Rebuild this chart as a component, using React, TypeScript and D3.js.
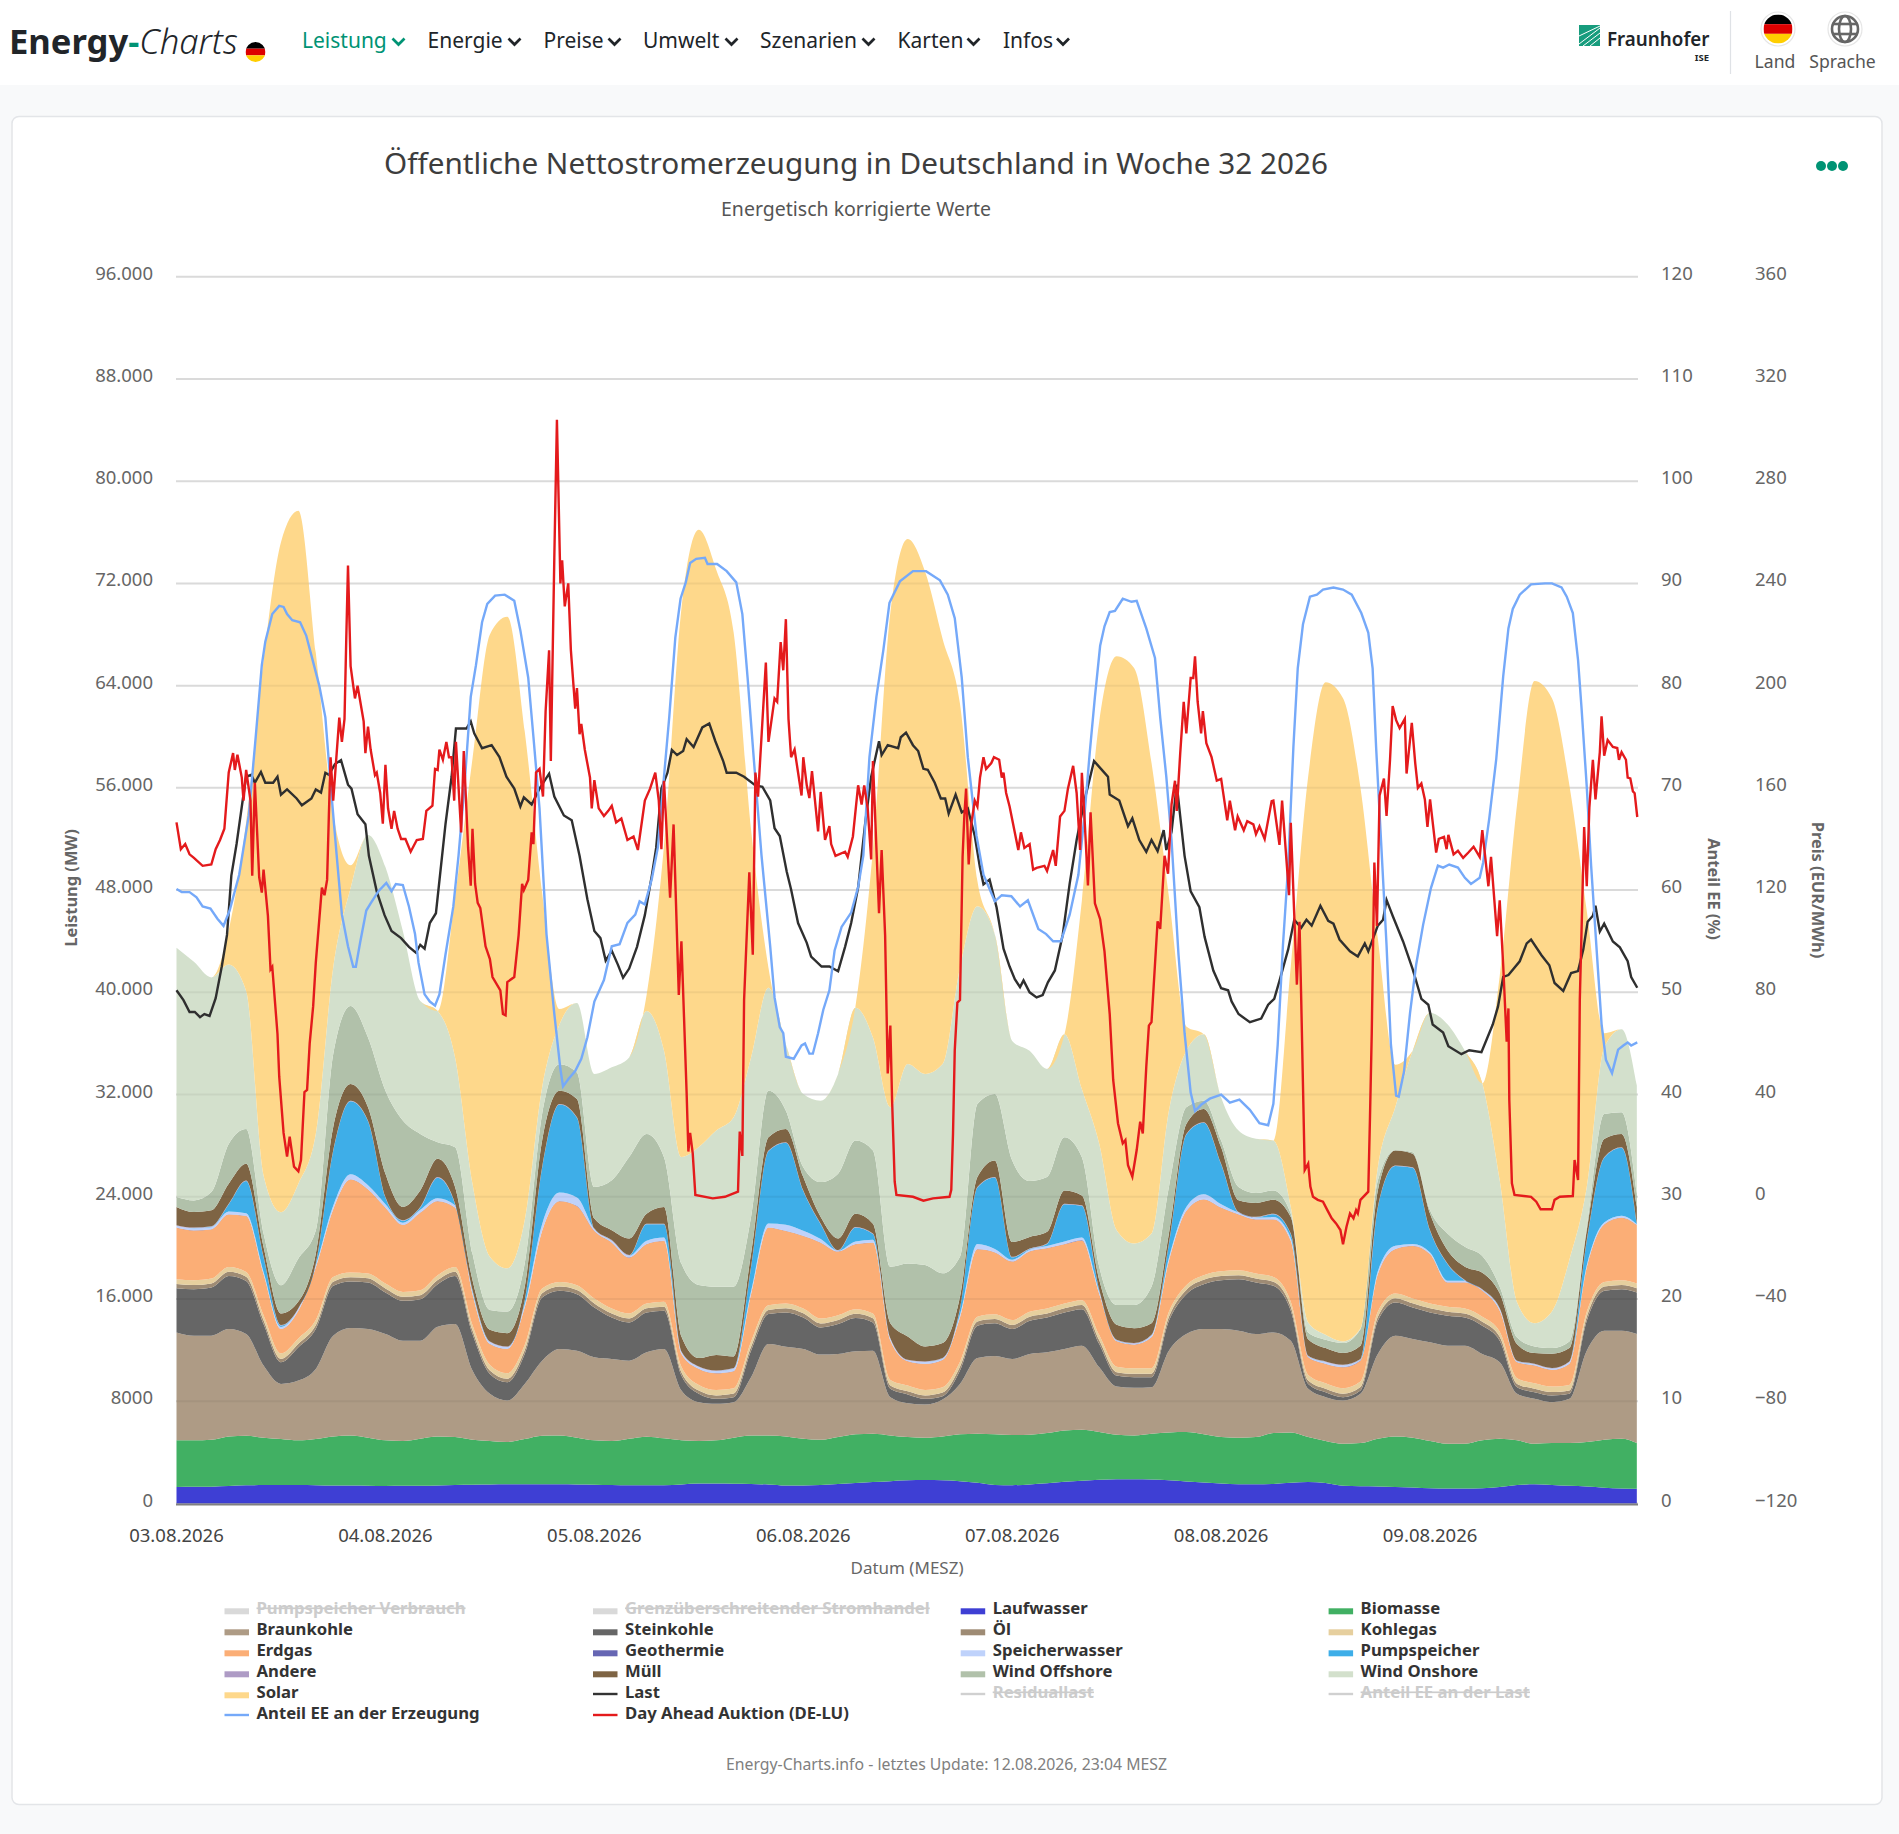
import React from 'react';
import * as d3 from 'd3';

const FONT = '"Noto Sans", "Open Sans", sans-serif';

const stackHours = d3.range(0, 169, 2);

const laufwasser = [
  1300,1310,1320,1370,1420,1440,1450,1440,1420,1400,1400,1390,
  1370,1380,1380,1410,1450,1470,1490,1500,1500,1510,1500,1490,
  1470,1450,1430,1420,1430,1490,1560,1560,1540,1520,1480,1400,
  1410,1450,1530,1610,1680,1750,1820,1830,1810,1740,1620,1450,
  1430,1490,1580,1700,1780,1860,1900,1900,1880,1820,1730,1640,
  1560,1500,1500,1530,1620,1690,1600,1380,1350,1330,1290,1260,
  1200,1180,1170,1190,1290,1440,1500,1440,1380,1340,1240,1180,
  1150];
const biomasse = [
  3640,3630,3670,3880,3880,3710,3590,3500,3620,3850,3930,3760,
  3570,3510,3690,3840,3750,3520,3400,3310,3540,3790,3830,3660,
  3470,3440,3640,3810,3670,3450,3330,3380,3610,3810,3850,3850,
  3660,3540,3670,3800,3780,3580,3380,3320,3440,3670,3840,3960,
  3930,3890,3930,4020,3990,3730,3480,3430,3580,3740,3860,3770,
  3640,3650,3700,3980,3940,3510,3290,3300,3380,3740,3960,3890,
  3690,3500,3510,3750,3780,3500,3180,3290,3350,3470,3750,3890,
  3580];
const braunkohle = [
  8450,8190,8140,8400,7960,5640,4320,4680,5490,7880,8400,8500,
  8320,7850,7670,8580,8840,5410,3690,3250,4320,5880,6760,6810,
  6500,6420,6110,6600,6990,3900,3040,2860,2780,4550,7150,7020,
  7020,6660,6500,6500,6500,2990,2650,2600,2890,3950,5930,6140,
  5950,6320,6320,6370,6580,5070,3770,3720,3640,6400,7670,8240,
  8450,8370,8060,7880,7180,3770,3430,3380,3850,6630,7880,7720,
  7720,7670,7670,6760,5980,3640,3510,3200,3460,7150,8530,8450,
  8530];
const steinkohle = [
  3460,3640,3770,4160,4160,3250,1690,2600,3120,3900,3640,3640,
  3250,3120,3250,3330,3770,2860,1560,1430,2340,4940,4550,4420,
  3900,3250,2990,3120,2990,1170,650,390,390,2080,2340,2680,
  2470,2130,2340,2600,2210,650,680,440,260,1040,2520,2550,
  2340,2600,2730,2860,2860,1820,860,830,780,2340,3120,3510,
  3820,4030,4030,3640,2340,390,390,260,260,2600,2600,2470,
  2340,2340,2210,2210,1690,520,520,520,390,2340,3120,3250,
  3250];
const oel = [
  320,320,310,320,330,300,270,280,300,330,340,330,
  320,320,310,320,330,300,260,270,290,330,340,330,
  320,310,310,320,320,270,260,270,280,300,330,330,
  320,310,320,330,320,270,260,270,280,300,330,330,
  320,320,310,320,320,290,270,270,280,310,330,340,
  330,320,320,320,310,260,260,270,270,320,340,330,
  320,320,310,310,300,260,270,270,270,320,340,330,
  330];
const kohlegas = [
  380,380,390,380,370,400,430,420,400,370,360,370,
  380,380,390,380,370,400,440,430,410,370,360,370,
  380,390,390,380,380,430,440,430,420,400,370,370,
  380,390,380,370,380,430,440,430,420,400,370,370,
  380,380,390,380,380,410,430,430,420,390,370,360,
  370,380,380,380,390,440,440,430,430,380,360,370,
  380,380,390,390,400,440,430,430,430,380,360,370,
  370];
const erdgas = [
  4030,3900,3850,4110,4370,3200,1900,2160,4110,5280,7280,6580,
  5930,5230,6060,5800,4630,2420,1640,1900,2940,4500,6320,6190,
  5280,5150,4370,4630,4760,990,1250,1300,1330,3720,6060,5670,
  5670,5930,4970,5070,5540,3070,1900,2030,2130,3460,5280,4840,
  4580,4710,4710,4630,4680,3200,1980,1850,2420,3980,5800,5930,
  4970,4370,4240,4500,4760,1380,1510,1640,1640,2940,3460,4110,
  3850,1900,2030,2030,1640,1250,1380,1300,1640,3460,4500,4890,
  4580];
const geothermie = [
  20,20,20,20,20,20,20,20,20,20,20,20,
  20,20,20,20,20,20,20,20,20,20,20,20,
  20,20,20,20,20,20,20,20,20,20,20,20,
  20,20,20,20,20,20,20,20,20,20,20,20,
  20,20,20,20,20,20,20,20,20,20,20,20,
  20,20,20,20,20,20,20,20,20,20,20,20,
  20,20,20,20,20,20,20,20,20,20,20,20,
  20];
const speicherwasser = [
  130,150,150,210,210,160,150,130,150,260,390,310,
  260,160,210,210,180,160,130,130,210,520,650,650,
  130,130,130,260,260,130,130,150,180,210,310,470,
  390,260,50,210,210,130,50,130,80,210,390,260,
  130,130,160,210,210,160,50,50,130,210,310,390,
  260,130,130,160,210,50,130,130,50,210,260,130,
  130,130,130,50,130,50,80,80,130,160,130,130,
  50];
const pumpspeicher = [
  10,10,30,570,2520,1140,100,10,100,4290,5720,5020,
  520,160,180,1610,80,100,10,10,310,4420,6890,6240,
  10,10,10,1300,1040,10,10,10,10,1870,5670,6420,
  3120,1170,10,1090,440,10,10,10,10,440,4420,5590,
  180,50,160,2910,2470,100,10,10,10,1090,5670,5590,
  3120,10,10,230,310,10,10,10,10,4990,6240,5980,
  1690,1300,10,10,10,10,10,10,10,1920,5070,5330,
  10];
const andere = [
  40,40,40,40,40,40,40,40,40,40,40,40,
  40,40,40,40,40,40,40,40,40,40,40,40,
  40,40,40,40,40,40,40,40,40,40,40,40,
  40,40,40,40,40,40,40,40,40,40,40,40,
  40,40,40,40,40,40,40,40,40,40,40,40,
  40,40,40,40,40,40,40,40,40,40,40,40,
  40,40,40,40,40,40,40,40,40,40,40,40,
  40];
const muell = [
  1430,1220,1250,1560,1300,780,910,520,780,1820,1300,1040,
  1820,1040,1300,1430,1300,780,910,1040,1040,2080,1040,1430,
  780,780,1300,780,1300,1170,650,1220,910,1040,1040,1040,
  1040,520,910,1040,780,1170,1820,1170,1170,910,780,1300,
  1170,910,910,1040,780,780,1170,1170,910,780,780,1040,
  1300,910,1090,1090,1300,1300,1040,910,1040,1300,1170,1040,
  1300,1040,1040,1300,1170,1300,830,1120,1040,780,1430,1040,
  1300];
const windOffshore = [
  780,910,1430,3120,2730,1040,2210,3380,1820,5720,6110,5460,
  6500,6760,4420,1300,3120,2080,1560,1690,1820,2080,2080,2080,
  2470,3900,6370,6240,3900,5720,5720,5330,5460,2860,3640,1430,
  780,2730,5070,5720,5720,4420,5720,6370,5460,3120,5720,5200,
  6370,4370,4290,4160,2990,1040,1560,1820,2860,3640,1300,650,
  520,1040,780,730,260,520,650,780,1300,780,50,130,
  260,1300,1560,1300,520,520,520,440,520,260,1950,1690,
  1040];
const windOnshore = [
  19500,18670,16800,14040,10790,4550,5720,5850,7540,6760,9230,15860,
  17500,14820,10400,10270,7020,5460,4160,3380,3380,2080,3120,5430,
  8840,8840,7800,9620,8320,8320,10790,12220,13260,12480,8060,5200,
  5720,6370,7800,10400,8840,12480,15600,14950,16380,22620,15470,12480,
  9360,10190,8450,8060,5330,9620,5850,4810,4160,5980,4420,5200,
  3380,4420,4240,3900,520,780,390,130,50,1040,3330,7930,
  15470,16380,15340,13520,8320,2730,1820,2860,6370,3120,5200,6500,
  8450];
const solar = [
  0,0,0,2680,13230,40330,52420,52650,37670,12040,1790,0,
  0,0,0,0,12580,33250,48700,50990,38270,15240,1200,0,
  0,0,0,1250,16070,42900,48300,43890,37930,17840,1560,0,
  0,0,0,130,14720,38690,41090,39310,33280,20670,1980,0,
  0,0,0,0,14740,33070,44900,45030,36840,16740,1900,0,
  0,0,0,0,18850,42740,51060,50340,42330,17890,3330,0,
  0,0,0,0,15990,39030,50260,48000,37180,21610,1120,0,
  0];

const layers = [
  { name: 'Laufwasser', values: laufwasser, color: '#3e3fd4' },
  { name: 'Biomasse', values: biomasse, color: '#41b063' },
  { name: 'Braunkohle', values: braunkohle, color: '#ae9b85' },
  { name: 'Steinkohle', values: steinkohle, color: '#666666' },
  { name: 'Öl', values: oel, color: '#9e8b74' },
  { name: 'Kohlegas', values: kohlegas, color: '#e6cf9e' },
  { name: 'Erdgas', values: erdgas, color: '#fbae76' },
  { name: 'Geothermie', values: geothermie, color: '#6666b3' },
  { name: 'Speicherwasser', values: speicherwasser, color: '#bfd2fb' },
  { name: 'Pumpspeicher', values: pumpspeicher, color: '#3eaee8' },
  { name: 'Andere', values: andere, color: '#ae9bc5' },
  { name: 'Müll', values: muell, color: '#7e6444' },
  { name: 'Wind Offshore', values: windOffshore, color: '#b1c1aa' },
  { name: 'Wind Onshore', values: windOnshore, color: '#d3e0cc' },
  { name: 'Solar', values: solar, color: '#fed88b' },
];

const loadHours = [0,.8,1.5,2.1,2.7,3.2,3.8,4.5,5.2,5.8,6.3,6.9,7.6,8,8.6,9,9.7,10.2,11.1,11.6,12,12.7,13.8,14.4,15.5,16,16.6,17.1,17.5,18.2,18.9,19.7,20.1,20.8,21.7,22.1,23,23.9,24.7,25.8,26.7,27.5,28,28.5,29.1,29.8,30.9,31.6,32.1,33.3,33.8,34.2,35.1,36.2,37.1,37.9,38.8,39.5,39.9,40.8,41.7,42.8,43.4,44.5,45.4,46.3,47.2,48,48.7,49.3,50,50.7,51.3,52,52.9,53.8,54.6,55.1,55.7,56.4,56.9,57.5,58.2,58.6,59.4,60.4,61.2,61.9,62.8,63.2,64.3,65.2,66.5,67.3,68.2,68.7,69.3,70.1,70.6,71.4,72.4,72.9,74.1,75,76,76.8,77.5,78.3,79.1,79.8,80.7,81,81.7,82.9,83.2,83.8,84.6,85.2,85.8,86.3,87.1,87.8,88.3,88.7,89.5,90.2,90.9,91.7,92.3,92.7,93.4,94.2,95,95.7,96.3,96.9,97.3,98,98.8,99.5,100.1,100.9,101.8,102.6,103.4,104.3,105.4,106.4,107,107.2,108.3,109.3,109.8,110.6,111.4,112,112.7,113.4,113.7,114.3,114.9,115.8,116.5,117.5,118.1,119.1,120,120.8,121.2,122,123.3,124.6,125.4,126.1,126.7,127.7,128.4,129.2,129.8,130.4,131.4,132.3,132.9,133.6,134.8,135.7,136.5,136.9,138,138.6,139,139.7,140.9,142,143,143.8,144.3,145.5,146.1,147.6,148.5,149.9,151.2,151.8,152.4,153,154.3,155.1,155.6,156.8,157.7,158.3,159.3,160.2,161,161.6,162.1,162.7,163,163.5,164,165,165.8,166.7,167.1,167.8];
const loadValues = [40160,39390,38460,38460,38060,38300,38150,39540,42020,44490,49130,51610,55010,56870,57020,56400,57240,56400,56400,56870,55470,55880,55170,54640,55170,55880,55630,57180,57020,57860,58170,56250,55940,53930,53160,50680,47900,46040,44800,44240,43560,43100,43720,43410,45420,46190,53160,56870,60640,60640,61200,60270,59100,59340,58410,56870,55940,54550,55260,54700,55940,57110,55320,53840,53460,50680,47280,44800,44240,42480,43250,42170,41150,41860,43560,46040,49130,51300,55940,57180,58970,58570,58880,59810,59190,60730,61040,59650,58100,57180,57180,56870,56190,56090,55010,52840,52230,49440,48050,45420,43870,42790,42020,42020,41650,43560,45420,48200,53160,56870,59650,58570,59340,59100,59960,60330,59340,58880,57490,57420,56400,55170,55170,53990,55470,54080,54390,52230,49750,48450,48820,46660,43410,42020,41030,40410,40930,40000,39600,39790,40780,41710,44490,48510,51920,55010,58100,57330,56870,55470,55010,53000,53620,51920,50990,51920,51050,52690,51140,52540,56250,50680,47900,46660,44340,41710,40320,40160,39290,38300,37660,37950,39030,39490,40890,43360,45680,45060,45680,45220,46770,45590,45370,44130,43210,42810,43830,43210,45220,45680,47230,45990,43980,41810,39490,39030,37480,36860,35780,35160,35470,35320,37480,38880,41200,41350,42430,43830,44130,42900,42120,40730,40110,41510,41660,43360,45530,45990,46770,44760,45370,43980,43520,42430,41200,40360];

const shareHours = [0,.6,1.5,2.3,3,3.9,4.7,5.4,6.1,7.2,8.3,9.1,9.8,10.2,11,11.8,12.3,12.7,13.3,14.2,14.9,15.7,16.4,17.1,17.7,18.4,19,19.7,20.3,20.6,21.1,21.8,22.3,23.2,24.1,24.7,25.2,26,26.7,27.4,27.8,28.5,29.1,29.7,30.2,30.9,31.8,32.4,33.1,33.8,34.4,35.1,35.7,36.6,37.7,38.8,39.5,40.4,41,41.7,42.5,43.4,44.1,44.4,45,45.8,46.5,47.2,48,49.1,50,50.9,51.8,52.7,53.2,53.8,54.6,55.3,56,56.6,57.3,57.9,58.5,59,59.7,60.7,61,62.1,63.2,64.3,65,65.6,66.3,67.2,68.2,68.7,69.3,69.7,70,70.9,71.8,72.2,72.7,73.1,73.7,74.3,75,75.6,76.4,77.5,78.3,78.9,79.6,80.4,81.2,81.9,83.1,84.6,86.1,87.7,88.6,89.4,90.2,90.9,91.9,92.7,93.4,94,94.8,95.9,96.9,97.8,99,99.9,100.7,101.6,102.6,103.6,104.3,104.9,105.5,106.1,106.6,107.2,107.8,108.7,109.7,110.3,111.4,112.4,113,113.7,114.3,115.1,115.8,116.5,117,117.7,118.7,120,121,122.1,123.3,124.4,125.4,126,126.5,127.1,127.7,128.3,128.8,129.4,130.2,131,131.7,132.9,134,135,136.1,136.9,137.4,137.8,138.4,139,139.5,140.1,140.4,141,141.7,142.4,143.2,144.1,144.9,145.5,146.2,147.2,148,148.7,149.7,150.1,150.8,151.6,152.4,153,153.5,154.3,155.6,157.2,158,159.1,159.7,160.4,161,161.4,162,162.5,163.1,163.7,164.2,164.9,165.6,166.2,166.7,167.1,167.8];
const shareValues = [60.1,59.8,59.8,59.3,58.4,58.2,57.2,56.5,58,61.5,67.3,75,82,84.3,87,87.8,87.7,87,86.4,86.2,84.9,82.3,80,76.9,70.4,63.4,57.6,54.5,52.5,52.5,54.9,58,58.7,59.9,60.7,59.9,60.6,60.5,58.4,55.7,52.9,49.8,49.1,48.7,49.8,53.7,58.4,63.4,70.4,78.9,82,86.2,88,88.8,88.9,88.3,85.4,80.8,75,68,55.7,47.9,42.5,40.8,41.5,42.3,43.5,45.6,49.1,51.2,54.5,54.7,56.8,57.6,58.9,58.6,61.1,64.2,71.1,76.9,84.7,88.5,90.1,92,92.4,92.5,91.9,91.9,91.2,90.1,87,80.8,73,63.4,54.5,49.5,46.6,46,43.7,43.5,44.8,45,44,44,46,48.3,50.2,54.1,56.4,57.8,60.3,63.4,73,78.9,83.5,88.1,90.2,91.2,91.2,90.3,88.9,86.6,80.8,73,65.3,61.5,60.1,58.9,59.5,59.4,58.4,59,56.2,55.7,55,55,57.6,61.5,67.3,73.4,78.9,83.9,85.8,87.2,87.3,88.5,88.2,88.3,85.6,82.7,76.9,71.1,64.9,53.7,46,40.2,38.4,39,39.6,40,39.2,39.5,38.5,37.2,37,39.1,44.9,54.6,62.4,74,81.7,86,88.7,88.9,89.4,89.6,89.4,88.9,87.1,85.2,81.7,74,64.3,54.6,44.9,39.9,39.8,42.2,48,52.7,56.6,60.2,62.4,62.2,62.5,62.2,61.2,60.6,61.2,62.7,67,72.8,80.9,85.6,87.5,88.9,89.9,90,90,89.6,88.7,87.1,82.5,77.8,70.1,62.4,54.6,46.9,43.4,42.1,44.4,44.8,45.1,44.8,45.1];

const priceHours = [0,.5,1,1.5,2,3,4,4.5,5,5.5,6,6.5,6.7,7,7.5,7.7,8,8.5,8.7,9,9.5,9.8,10,10.5,10.8,11,11.6,11.8,12.3,12.7,13,13.5,14,14.3,14.7,15,15.3,15.7,16,16.7,17,17.3,17.5,17.7,18,18.7,19,19.3,19.5,19.7,20,20.5,20.8,21.1,21.5,21.7,22,22.3,22.8,23,23.4,23.7,24,24.3,24.7,25,25.4,25.8,26.3,26.9,27.6,28.3,28.7,29.4,29.7,30,30.2,30.6,31,31.3,31.6,31.9,32.1,32.7,33,33.5,33.8,34,34.3,34.6,34.9,35.5,36,36.3,37.2,37.5,37.8,38,38.8,39.3,39.7,39.9,40.4,40.8,41,41.3,41.7,42.1,42.4,42.8,43,43.4,43.7,44.1,44.3,44.6,45,45.3,45.8,46,46.3,46.5,46.9,47.5,47.7,48,48.5,49.1,49.6,50,50.5,51.1,51.8,52.5,53,53.8,54.4,55,55.4,55.7,56,56.7,57.1,57.7,58,58.6,58.8,59,59.3,59.6,61.6,63,64.5,64.7,65,65.2,65.8,66.2,66.5,66.8,67.7,68,68.7,69,69.4,69.7,70,70.3,70.6,71,71.4,71.8,72,72.4,72.7,73,73.7,74,74.5,75,75.2,75.7,76.8,77.1,77.7,78.3,78.7,79,79.4,79.8,80,80.4,80.7,81,81.4,81.7,82,82.2,82.5,82.7,84.6,85.8,86.9,88.8,89,89.2,89.4,89.7,90,90.3,90.5,90.7,91,91.3,91.7,92,92.3,92.7,93,93.6,93.9,94.5,94.8,95,95.3,95.7,96.7,97,97.4,98,98.4,98.8,99.7,100,100.7,101,101.5,102,102.4,103,103.4,103.8,104,104.3,104.7,105,105.5,106.1,106.6,107.2,107.6,108.15,108.7,109,109.3,109.8,110.3,110.7,111,111.4,111.7,112,112.7,113,113.5,113.9,114.3,114.7,114.9,115.3,115.7,116,116.5,116.8,117,117.3,117.7,117.9,118.3,118.9,119.5,120,120.7,121,121.6,121.9,122.6,123,123.7,124,124.4,125,125.8,126,126.7,127,127.8,128,128.7,129,129.2,129.6,130,130.25,130.55,131.1,131.7,132.2,132.7,133.2,133.7,134,134.4,134.8,135.2,135.5,135.7,136,136.9,137.1,137.3,137.6,137.9,138.2,138.7,139,139.4,139.7,140.1,140.5,141.1,141.3,141.9,142.3,142.6,143,143.4,143.7,144,144.7,145,145.6,145.9,146.1,146.7,147.2,147.8,148.4,149,149.7,150,150.7,151,151.7,152,152.4,152.8,153,153.1,153.4,153.7,155.6,156.2,156.7,158,158.3,158.9,160.4,160.6,161,161.2,161.7,162,162.3,162.7,163,163.5,163.7,164,164.4,165,165.5,165.7,166,166.5,166.7,167,167.3,167.5,167.8];
const priceValues = [146.5,136,138,134,132.6,129.5,130,136,139.6,144,166,173.6,167,173,164,155,167,155,125.6,162,125,119,128,110,89,90,63.7,47,25,15.7,23.5,11.8,10,14.4,41,41.8,60,74.6,91.6,121,118,124,149,172,155,187.5,178,187,218,247,207.6,195,200,194,186,173.6,184,175,165,166,158,146,169,152,144,151,144,140,140,135,139.6,140,151,153,167.4,167,175,171,178,172,172,155,178,142.6,174.4,136.5,121.7,144,122.5,115,113,98,93,86,80.8,71.5,71,84,86,102.4,122.5,120,124,142.6,138,166,167.4,156.6,190,213.8,170.5,250,304,240,249,231,240,214,191,199,181,185,175,164,152,163,152,149,151,153,146.5,148,139.6,141,135.7,155,159.7,166,155,136,162.8,117,145.7,79,100,40.5,17.7,25,17,0.7,-0.6,0,2,25.5,16,77,127,94.7,166,156.6,209,178,195,193.7,217,206,226,187,172,175,166,157,172,161,156,166.6,143,158.4,139.6,145,138,133.4,135,133,141,161,153.5,161,152,132,170.5,136.5,111,135.7,102.4,48.3,67,37.9,5.9,0.7,0,-1.5,-0.6,0,2.7,24.8,57.4,76,77,133,149,159.7,130,146,155,152.7,164,172,167.4,169.7,172,171,164,166,158,152.7,135.7,142.6,136.5,138,128,128.7,129.5,127.5,135.7,129.5,148.8,151,159.7,168.6,158,135.7,165.9,148.8,121.8,150.4,114.8,108.6,96,71.5,45.7,28.8,20.9,22.2,12.4,7.9,18.3,29.4,24.8,50.9,67,68.4,107.8,104.8,133.4,126.4,153.5,162.8,151,173.6,193.7,181.3,203,203,211.5,193.7,181.3,190,177.5,172,162.8,163.5,147.3,155,143.4,148.8,143.4,147,145.7,141.9,145,140,154.8,155,137.7,155,118,146.3,83,107.6,77,10.5,13,4,0,-1.2,-1.9,-5.2,-8.4,-10.4,-13,-18.6,-11.7,-6.5,-8.4,-5.2,-6.5,-1.2,2,31.4,64,130.8,106,157,163.6,149,171,192,186.5,183.4,187,165.6,185.4,169.5,160,161.7,155.5,144.7,155.5,134.7,140,140.8,136,141.6,134,135.4,132.6,134.7,137,133,143.5,121.5,133,102,116,90.6,60.7,73.7,38,5.3,0.7,0,-1.9,-4.9,-4.9,-1.2,0,0.3,14.4,6.6,77,144.7,121.5,152.4,171,155.5,174,188,172.6,178.7,176,175.6,171,174,171,164,163.7,158.6,157.9,148.6];

const powerTicks = [96000, 88000, 80000, 72000, 64000, 56000, 48000, 40000, 32000, 24000, 16000, 8000, 0];
const powerTickLabels = ['96.000', '88.000', '80.000', '72.000', '64.000', '56.000', '48.000', '40.000', '32.000', '24.000', '16.000', '8000', '0'];
const shareTicks = [120, 110, 100, 90, 80, 70, 60, 50, 40, 30, 20, 10, 0];
const priceTicks = [360, 320, 280, 240, 200, 160, 120, 80, 40, 0, -40, -80, -120];
const dateHours = [0, 24, 48, 72, 96, 120, 144];
const dateLabels = ['03.08.2026', '04.08.2026', '05.08.2026', '06.08.2026', '07.08.2026', '08.08.2026', '09.08.2026'];

const navItems = ['Leistung', 'Energie', 'Preise', 'Umwelt', 'Szenarien', 'Karten', 'Infos'];
const navLeft = [302, 427.5, 543.5, 643, 760, 897.5, 1003];
const navChevron = [398.5, 514.5, 614.5, 731.5, 868.5, 973.5, 1063];

const legendItems = [
  ['Pumpspeicher Verbrauch', '#d9d9d9', 'area', true], ['Grenzüberschreitender Stromhandel', '#d9d9d9', 'area', true], ['Laufwasser', '#3e3fd4', 'area', false], ['Biomasse', '#41b063', 'area', false],
  ['Braunkohle', '#ae9b85', 'area', false], ['Steinkohle', '#666666', 'area', false], ['Öl', '#9e8b74', 'area', false], ['Kohlegas', '#e6cf9e', 'area', false],
  ['Erdgas', '#fbae76', 'area', false], ['Geothermie', '#6666b3', 'area', false], ['Speicherwasser', '#bfd2fb', 'area', false], ['Pumpspeicher', '#3eaee8', 'area', false],
  ['Andere', '#ae9bc5', 'area', false], ['Müll', '#7e6444', 'area', false], ['Wind Offshore', '#b1c1aa', 'area', false], ['Wind Onshore', '#d3e0cc', 'area', false],
  ['Solar', '#fed88b', 'area', false], ['Last', '#333333', 'line', false], ['Residuallast', '#d0d0d0', 'line', true], ['Anteil EE an der Last', '#d0d0d0', 'line', true],
  ['Anteil EE an der Erzeugung', '#75a9f9', 'line', false], ['Day Ahead Auktion (DE-LU)', '#e41a1c', 'line', false],
] as [string, string, string, boolean][];
const legendColumns = [224.5, 593, 960.7, 1328.6];

const x = d3.scaleLinear().domain([0, 168]).range([176.5, 1639]);
const yPower = d3.scaleLinear().domain([0, 96000]).range([1503.5, 276.7]);
const yShare = d3.scaleLinear().domain([0, 120]).range([1503.5, 276.7]);
const yPrice = d3.scaleLinear().domain([-120, 360]).range([1503.5, 276.7]);
const clampHour = (h: number) => Math.min(h, 167.75);

const rows = stackHours.map((_, i) => {
  const r: Record<string, number> = {};
  layers.forEach(l => { r[l.name] = l.values[i]; });
  return r;
});
const stacked = d3.stack().keys(layers.map(l => l.name))(rows as any);
const area = d3.area<any>()
  .x((_, i) => x(clampHour(stackHours[i])))
  .y0(d => yPower(d[0]))
  .y1(d => yPower(d[1]))
  .curve(d3.curveMonotoneX);

const linePath = (hours: number[], values: number[], y: d3.ScaleLinear<number, number>) =>
  d3.line<number>().x((_, i) => x(hours[i])).y(d => y(d))(values) as string;

const Chevron = ({ cx, color }: { cx: number; color: string }) => (
  <path d={`M${cx - 6},38.5 L${cx},44.5 L${cx + 6},38.5`} fill="none" stroke={color} strokeWidth={2.7} />
);

const GermanDisc = ({ cx, cy, r }: { cx: number; cy: number; r: number }) => (
  <g>
    <clipPath id={`disc${cx}`}><circle cx={cx} cy={cy} r={r} /></clipPath>
    <g clipPath={`url(#disc${cx})`}>
      <rect x={cx - r} y={cy - r} width={2 * r} height={(2 * r) / 3} fill="#000" />
      <rect x={cx - r} y={cy - r / 3} width={2 * r} height={(2 * r) / 3} fill="#dd0000" />
      <rect x={cx - r} y={cy + r / 3} width={2 * r} height={(2 * r) / 3} fill="#ffce00" />
    </g>
  </g>
);

export default function App() {
  return (
    <div>
      <style>{'body{margin:0;background:#f8f9fa}'}</style>
      <svg width={1899} height={1834} style={{ display: 'block', fontFamily: FONT }}>
        <rect x={0} y={0} width={1899} height={1834} fill="#f8f9fa" />
        <rect x={0} y={0} width={1899} height={85} fill="#fff" />
        <rect x={12} y={116.5} width={1870} height={1688} rx={7} fill="#fff" stroke="#e3e5e8" strokeWidth={1.5} />

        {/* header */}
        <text x={9} y={54} fontSize={34.6} fill="#212529">
          <tspan fontWeight={700}>Energy</tspan>
          <tspan fontWeight={700} fill="#009374">-</tspan>
          <tspan fontStyle="italic" fontWeight={300}>Charts</tspan>
        </text>
        <GermanDisc cx={255.5} cy={52} r={10} />
        {navItems.map((t, i) => (
          <g key={t}>
            <text x={navLeft[i]} y={48} fontSize={21} fill={i === 0 ? '#009374' : '#212529'}>{t}</text>
            <Chevron cx={navChevron[i]} color={i === 0 ? '#009374' : '#212529'} />
          </g>
        ))}
        <rect x={1579} y={25} width={21} height={21} fill="#179c7d" />
        <path d="M1579,44 L1600,28 M1583,46 L1600,33 M1590,46 L1600,38 M1579,36 L1600,26" stroke="#fff" strokeWidth={1} />
        <text x={1709.5} y={45.5} textAnchor="end" fontSize={18.8} fontWeight={600} fill="#212529">Fraunhofer</text>
        <text x={1709} y={61} textAnchor="end" fontSize={9.5} fontWeight={700} fill="#212529">ISE</text>
        <line x1={1730.5} x2={1730.5} y1={11} y2={74} stroke="#dfe2e6" strokeWidth={1.2} />
        <circle cx={1778} cy={29} r={17} fill="#fff" stroke="#e6e6e6" strokeWidth={1.2} />
        <GermanDisc cx={1778} cy={29} r={14.5} />
        <circle cx={1845} cy={29} r={17} fill="#fff" stroke="#e6e6e6" strokeWidth={1.2} />
        <g fill="none" stroke="#666" strokeWidth={2.6}>
          <circle cx={1845} cy={29} r={13} />
          <ellipse cx={1845} cy={29} rx={6} ry={13} />
          <line x1={1832} x2={1858} y1={24} y2={24} />
          <line x1={1832} x2={1858} y1={34} y2={34} />
        </g>
        <text x={1775} y={68} textAnchor="middle" fontSize={17.6} fill="#555">Land</text>
        <text x={1842.5} y={68} textAnchor="middle" fontSize={17.6} fill="#555">Sprache</text>

        {/* chart titles */}
        <text x={856} y={174} textAnchor="middle" fontSize={29.7} fill="#3d3d3d">Öffentliche Nettostromerzeugung in Deutschland in Woche 32 2026</text>
        <text x={856} y={216} textAnchor="middle" fontSize={19.5} fill="#555">Energetisch korrigierte Werte</text>
        {[1821, 1832, 1843].map(cx => <circle key={cx} cx={cx} cy={166} r={5} fill="#009374" />)}

        {/* stacked generation */}
        {powerTicks.map(t => (
          <line key={t} x1={176} x2={1638} y1={yPower(t)} y2={yPower(t)} stroke="#e6e6e6" strokeWidth={2} />
        ))}
        {stacked.map((s, i) => (
          <path key={s.key} d={area(s as any) as string} fill={layers[i].color} />
        ))}

        {/* the grid shows through the fills faintly */}
        {powerTicks.map(t => (
          <line key={t} x1={176} x2={1638} y1={yPower(t)} y2={yPower(t)} stroke="rgba(0,0,0,0.05)" strokeWidth={2} />
        ))}
        <line x1={176} x2={1638} y1={1504.5} y2={1504.5} stroke="#808080" strokeWidth={2} />

        <path d={linePath(loadHours, loadValues, yPower)} fill="none" stroke="#2f2f2f" strokeWidth={2.4} />
        <path d={linePath(shareHours, shareValues, yShare)} fill="none" stroke="#75a9f9" strokeWidth={2.4} />
        <path d={linePath(priceHours, priceValues, yPrice)} fill="none" stroke="#e41a1c" strokeWidth={2.4} />

        {/* axes */}
        {powerTicks.map((t, i) => (
          <text key={t} x={153} y={yPower(t) + 3} textAnchor="end" fontSize={18.5} fill="#666">{powerTickLabels[i]}</text>
        ))}
        {shareTicks.map(t => (
          <text key={t} x={1661} y={yShare(t) + 3} fontSize={18.5} fill="#666">{t}</text>
        ))}
        {priceTicks.map(t => (
          <text key={t} x={1755} y={yPrice(t) + 3} fontSize={18.5} fill="#666">{t < 0 ? `−${-t}` : t}</text>
        ))}
        {dateHours.map((h, i) => (
          <text key={h} x={x(h)} y={1542} textAnchor="middle" fontSize={18.5} fill="#444">{dateLabels[i]}</text>
        ))}
        <text x={907} y={1574} textAnchor="middle" fontSize={17} fill="#666">Datum (MESZ)</text>
        <text transform="translate(77,888) rotate(-90)" textAnchor="middle" fontSize={16.4} fontWeight={700} fill="#666">Leistung (MW)</text>
        <text transform="translate(1708,889) rotate(90)" textAnchor="middle" fontSize={16.4} fontWeight={700} fill="#666">Anteil EE (%)</text>
        <text transform="translate(1812,890) rotate(90)" textAnchor="middle" fontSize={16.4} fontWeight={700} fill="#666">Preis (EUR/MWh)</text>

        {/* legend */}
        {legendItems.map(([name, color, kind, hidden], i) => {
          const col = i % 4;
          const row = Math.floor(i / 4);
          const lx = legendColumns[col];
          const ly = 1608.3 + row * 21;
          return (
            <g key={name}>
              {kind === 'area'
                ? <rect x={lx} y={ly} width={24.5} height={6} fill={color} />
                : <rect x={lx} y={ly + 0.5} width={24.5} height={2.4} fill={color} />}
              <text x={lx + 32} y={ly + 6} fontSize={16.7} fontWeight={700} fill={hidden ? '#cccccc' : '#333'} textDecoration={hidden ? 'line-through' : 'none'}>{name}</text>
            </g>
          );
        })}
        <text x={946.5} y={1770} textAnchor="middle" fontSize={15.8} fill="#808080">Energy-Charts.info - letztes Update: 12.08.2026, 23:04 MESZ</text>
      </svg>
    </div>
  );
}
